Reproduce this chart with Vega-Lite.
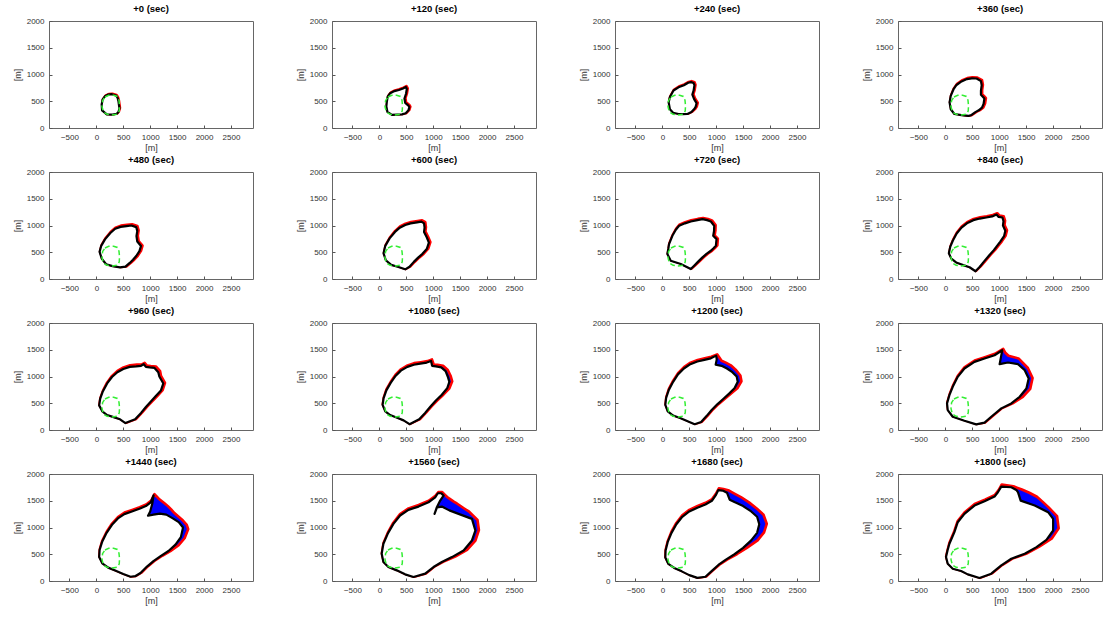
{
"$schema":"https://vega.github.io/schema/vega-lite/v6.json",
"background":"white",
"padding":{"left":12,"top":3,"right":0,"bottom":0},
"config":{
 "font":"Liberation Sans",
 "numberFormat":"d",
 "view":{"stroke":"#666666","strokeWidth":1},
 "axis":{"domain":false,"grid":false,"labelFontSize":8,"labelColor":"#333333","tickColor":"#555555","tickSize":-3,"labelPadding":8,"titleFontSize":9,"titleFontWeight":"normal","titleColor":"#333333","labelFont":"Liberation Sans","titleFont":"Liberation Sans"},
 "axisX":{"tickCount":8,"titlePadding":2},
 "axisY":{"tickCount":4,"titlePadding":4}
},
"data":{"values":[
{"t":0,"i":0,"x":193,"y":254,"u":193,"v":254},{"t":0,"i":1,"x":106,"y":328,"u":106,"v":328},{"t":0,"i":2,"x":99,"y":440,"u":99,"v":440},{"t":0,"i":3,"x":115,"y":530,"u":115,"v":530},{"t":0,"i":4,"x":161,"y":594,"u":161,"v":594},{"t":0,"i":5,"x":220,"y":625,"u":220,"v":625},{"t":0,"i":6,"x":286,"y":632,"u":286,"v":632},{"t":0,"i":7,"x":366,"y":607,"u":366,"v":607},{"t":0,"i":8,"x":395,"y":560,"u":395,"v":560},{"t":0,"i":9,"x":410,"y":502,"u":410,"v":502},{"t":0,"i":10,"x":420,"y":430,"u":420,"v":430},{"t":0,"i":11,"x":429,"y":365,"u":429,"v":365},{"t":0,"i":12,"x":410,"y":300,"u":410,"v":300},{"t":0,"i":13,"x":379,"y":266,"u":379,"v":266},{"t":0,"i":14,"x":300,"y":250,"u":300,"v":250},
{"t":120,"i":0,"x":233,"y":246,"u":233,"v":246},{"t":120,"i":1,"x":150,"y":300,"u":150,"v":300},{"t":120,"i":2,"x":130,"y":405,"u":130,"v":405},{"t":120,"i":3,"x":140,"y":500,"u":140,"v":500},{"t":120,"i":4,"x":155,"y":587,"u":155,"v":587},{"t":120,"i":5,"x":200,"y":650,"u":200,"v":652},{"t":120,"i":6,"x":280,"y":690,"u":280,"v":693},{"t":120,"i":7,"x":363,"y":710,"u":363,"v":714},{"t":120,"i":8,"x":440,"y":740,"u":440,"v":745},{"t":120,"i":9,"x":492,"y":768,"u":495,"v":775},{"t":120,"i":10,"x":510,"y":730,"u":518,"v":732},{"t":120,"i":11,"x":495,"y":640,"u":503,"v":640},{"t":120,"i":12,"x":466,"y":551,"u":474,"v":551},{"t":120,"i":13,"x":480,"y":470,"u":488,"v":470},{"t":120,"i":14,"x":540,"y":420,"u":548,"v":422},{"t":120,"i":15,"x":557,"y":391,"u":566,"v":391},{"t":120,"i":16,"x":540,"y":330,"u":548,"v":328},{"t":120,"i":17,"x":490,"y":275,"u":495,"v":272},{"t":120,"i":18,"x":420,"y":255,"u":420,"v":252},{"t":120,"i":19,"x":330,"y":250,"u":330,"v":248},
{"t":240,"i":0,"x":300,"y":262,"u":300,"v":260},{"t":240,"i":1,"x":200,"y":285,"u":200,"v":283},{"t":240,"i":2,"x":140,"y":350,"u":140,"v":350},{"t":240,"i":3,"x":117,"y":478,"u":117,"v":478},{"t":240,"i":4,"x":140,"y":580,"u":138,"v":582},{"t":240,"i":5,"x":207,"y":700,"u":205,"v":704},{"t":240,"i":6,"x":300,"y":760,"u":298,"v":765},{"t":240,"i":7,"x":400,"y":800,"u":398,"v":806},{"t":240,"i":8,"x":480,"y":845,"u":480,"v":852},{"t":240,"i":9,"x":531,"y":858,"u":533,"v":866},{"t":240,"i":10,"x":580,"y":840,"u":588,"v":845},{"t":240,"i":11,"x":596,"y":800,"u":606,"v":800},{"t":240,"i":12,"x":580,"y":700,"u":590,"v":700},{"t":240,"i":13,"x":557,"y":623,"u":567,"v":623},{"t":240,"i":14,"x":590,"y":540,"u":600,"v":540},{"t":240,"i":15,"x":635,"y":464,"u":648,"v":464},{"t":240,"i":16,"x":620,"y":400,"u":632,"v":398},{"t":240,"i":17,"x":596,"y":360,"u":606,"v":356},{"t":240,"i":18,"x":540,"y":300,"u":546,"v":296},{"t":240,"i":19,"x":466,"y":262,"u":468,"v":258},{"t":240,"i":20,"x":380,"y":258,"u":380,"v":256},
{"t":360,"i":0,"x":427,"y":225,"u":427,"v":222},{"t":360,"i":1,"x":300,"y":240,"u":300,"v":238},{"t":360,"i":2,"x":168,"y":262,"u":168,"v":260},{"t":360,"i":3,"x":100,"y":350,"u":100,"v":350},{"t":360,"i":4,"x":78,"y":478,"u":78,"v":478},{"t":360,"i":5,"x":100,"y":600,"u":98,"v":602},{"t":360,"i":6,"x":150,"y":720,"u":146,"v":724},{"t":360,"i":7,"x":207,"y":804,"u":203,"v":810},{"t":360,"i":8,"x":300,"y":870,"u":296,"v":878},{"t":360,"i":9,"x":400,"y":915,"u":398,"v":924},{"t":360,"i":10,"x":492,"y":928,"u":492,"v":938},{"t":360,"i":11,"x":580,"y":925,"u":585,"v":934},{"t":360,"i":12,"x":661,"y":877,"u":672,"v":884},{"t":360,"i":13,"x":675,"y":800,"u":688,"v":800},{"t":360,"i":14,"x":661,"y":700,"u":674,"v":700},{"t":360,"i":15,"x":661,"y":623,"u":674,"v":623},{"t":360,"i":16,"x":700,"y":580,"u":716,"v":582},{"t":360,"i":17,"x":725,"y":551,"u":744,"v":551},{"t":360,"i":18,"x":710,"y":450,"u":728,"v":448},{"t":360,"i":19,"x":680,"y":380,"u":696,"v":376},{"t":360,"i":20,"x":620,"y":330,"u":632,"v":324},{"t":360,"i":21,"x":557,"y":297,"u":566,"v":292},{"t":360,"i":22,"x":480,"y":240,"u":485,"v":236},
{"t":480,"i":0,"x":440,"y":217,"u":440,"v":214},{"t":480,"i":1,"x":300,"y":240,"u":300,"v":238},{"t":480,"i":2,"x":181,"y":275,"u":181,"v":273},{"t":480,"i":3,"x":100,"y":380,"u":100,"v":380},{"t":480,"i":4,"x":60,"y":507,"u":60,"v":507},{"t":480,"i":5,"x":90,"y":620,"u":88,"v":622},{"t":480,"i":6,"x":160,"y":740,"u":156,"v":746},{"t":480,"i":7,"x":260,"y":860,"u":255,"v":868},{"t":480,"i":8,"x":350,"y":940,"u":346,"v":950},{"t":480,"i":9,"x":450,"y":975,"u":448,"v":988},{"t":480,"i":10,"x":560,"y":990,"u":560,"v":1004},{"t":480,"i":11,"x":650,"y":1000,"u":655,"v":1014},{"t":480,"i":12,"x":740,"y":970,"u":752,"v":982},{"t":480,"i":13,"x":760,"y":900,"u":776,"v":900},{"t":480,"i":14,"x":745,"y":800,"u":760,"v":800},{"t":480,"i":15,"x":760,"y":700,"u":776,"v":700},{"t":480,"i":16,"x":829,"y":616,"u":848,"v":616},{"t":480,"i":17,"x":800,"y":520,"u":820,"v":518},{"t":480,"i":18,"x":740,"y":430,"u":760,"v":425},{"t":480,"i":19,"x":680,"y":360,"u":698,"v":355},{"t":480,"i":20,"x":620,"y":300,"u":632,"v":295},{"t":480,"i":21,"x":540,"y":230,"u":548,"v":226},
{"t":600,"i":0,"x":480,"y":181,"u":480,"v":178},{"t":600,"i":1,"x":340,"y":230,"u":340,"v":228},{"t":600,"i":2,"x":220,"y":265,"u":220,"v":263},{"t":600,"i":3,"x":120,"y":350,"u":120,"v":350},{"t":600,"i":4,"x":78,"y":480,"u":78,"v":480},{"t":600,"i":5,"x":110,"y":620,"u":108,"v":622},{"t":600,"i":6,"x":190,"y":760,"u":186,"v":766},{"t":600,"i":7,"x":290,"y":880,"u":285,"v":890},{"t":600,"i":8,"x":380,"y":960,"u":375,"v":972},{"t":600,"i":9,"x":480,"y":1010,"u":476,"v":1024},{"t":600,"i":10,"x":580,"y":1040,"u":578,"v":1055},{"t":600,"i":11,"x":700,"y":1060,"u":700,"v":1075},{"t":600,"i":12,"x":780,"y":1072,"u":785,"v":1088},{"t":600,"i":13,"x":830,"y":1040,"u":844,"v":1052},{"t":600,"i":14,"x":840,"y":960,"u":856,"v":960},{"t":600,"i":15,"x":830,"y":880,"u":846,"v":880},{"t":600,"i":16,"x":880,"y":780,"u":896,"v":780},{"t":600,"i":17,"x":920,"y":680,"u":938,"v":680},{"t":600,"i":18,"x":880,"y":560,"u":898,"v":556},{"t":600,"i":19,"x":800,"y":470,"u":816,"v":464},{"t":600,"i":20,"x":720,"y":400,"u":734,"v":394},{"t":600,"i":21,"x":640,"y":320,"u":650,"v":314},{"t":600,"i":22,"x":560,"y":230,"u":566,"v":226},
{"t":720,"i":0,"x":528,"y":186,"u":528,"v":183},{"t":720,"i":1,"x":342,"y":280,"u":342,"v":278},{"t":720,"i":2,"x":155,"y":342,"u":155,"v":340},{"t":720,"i":3,"x":93,"y":466,"u":93,"v":466},{"t":720,"i":4,"x":110,"y":560,"u":108,"v":562},{"t":720,"i":5,"x":124,"y":652,"u":120,"v":656},{"t":720,"i":6,"x":186,"y":807,"u":182,"v":813},{"t":720,"i":7,"x":250,"y":920,"u":245,"v":928},{"t":720,"i":8,"x":311,"y":994,"u":306,"v":1004},{"t":720,"i":9,"x":420,"y":1040,"u":416,"v":1052},{"t":720,"i":10,"x":528,"y":1075,"u":526,"v":1088},{"t":720,"i":11,"x":650,"y":1100,"u":650,"v":1114},{"t":720,"i":12,"x":745,"y":1118,"u":748,"v":1132},{"t":720,"i":13,"x":830,"y":1100,"u":838,"v":1114},{"t":720,"i":14,"x":901,"y":1075,"u":912,"v":1086},{"t":720,"i":15,"x":963,"y":994,"u":980,"v":1000},{"t":720,"i":16,"x":960,"y":900,"u":977,"v":900},{"t":720,"i":17,"x":944,"y":807,"u":962,"v":807},{"t":720,"i":18,"x":1006,"y":745,"u":1022,"v":745},{"t":720,"i":19,"x":994,"y":621,"u":1012,"v":618},{"t":720,"i":20,"x":950,"y":575,"u":966,"v":570},{"t":720,"i":21,"x":901,"y":528,"u":916,"v":522},{"t":720,"i":22,"x":820,"y":470,"u":834,"v":463},{"t":720,"i":23,"x":745,"y":404,"u":757,"v":398},{"t":720,"i":24,"x":660,"y":320,"u":670,"v":314},{"t":720,"i":25,"x":590,"y":248,"u":596,"v":244},
{"t":840,"i":0,"x":560,"y":145,"u":560,"v":142},{"t":840,"i":1,"x":450,"y":220,"u":450,"v":218},{"t":840,"i":2,"x":330,"y":260,"u":330,"v":258},{"t":840,"i":3,"x":200,"y":310,"u":200,"v":308},{"t":840,"i":4,"x":110,"y":380,"u":110,"v":380},{"t":840,"i":5,"x":65,"y":480,"u":65,"v":480},{"t":840,"i":6,"x":90,"y":600,"u":88,"v":602},{"t":840,"i":7,"x":140,"y":720,"u":136,"v":726},{"t":840,"i":8,"x":210,"y":850,"u":205,"v":858},{"t":840,"i":9,"x":300,"y":960,"u":294,"v":970},{"t":840,"i":10,"x":400,"y":1040,"u":395,"v":1052},{"t":840,"i":11,"x":520,"y":1100,"u":516,"v":1114},{"t":840,"i":12,"x":640,"y":1130,"u":638,"v":1145},{"t":840,"i":13,"x":760,"y":1150,"u":760,"v":1165},{"t":840,"i":14,"x":870,"y":1170,"u":872,"v":1186},{"t":840,"i":15,"x":950,"y":1205,"u":955,"v":1220},{"t":840,"i":16,"x":990,"y":1160,"u":998,"v":1175},{"t":840,"i":17,"x":1060,"y":1150,"u":1075,"v":1162},{"t":840,"i":18,"x":1080,"y":1080,"u":1100,"v":1082},{"t":840,"i":19,"x":1070,"y":1000,"u":1090,"v":1000},{"t":840,"i":20,"x":1114,"y":900,"u":1135,"v":900},{"t":840,"i":21,"x":1090,"y":800,"u":1110,"v":798},{"t":840,"i":22,"x":1020,"y":700,"u":1040,"v":695},{"t":840,"i":23,"x":960,"y":620,"u":976,"v":614},{"t":840,"i":24,"x":900,"y":540,"u":914,"v":534},{"t":840,"i":25,"x":820,"y":450,"u":832,"v":444},{"t":840,"i":26,"x":720,"y":330,"u":730,"v":324},{"t":840,"i":27,"x":640,"y":230,"u":646,"v":226},
{"t":960,"i":0,"x":540,"y":130,"u":540,"v":127},{"t":960,"i":1,"x":440,"y":200,"u":440,"v":198},{"t":960,"i":2,"x":320,"y":240,"u":320,"v":238},{"t":960,"i":3,"x":200,"y":280,"u":200,"v":278},{"t":960,"i":4,"x":110,"y":350,"u":108,"v":352},{"t":960,"i":5,"x":52,"y":460,"u":48,"v":462},{"t":960,"i":6,"x":70,"y":580,"u":65,"v":584},{"t":960,"i":7,"x":120,"y":720,"u":114,"v":726},{"t":960,"i":8,"x":200,"y":870,"u":192,"v":880},{"t":960,"i":9,"x":290,"y":990,"u":282,"v":1003},{"t":960,"i":10,"x":390,"y":1080,"u":382,"v":1096},{"t":960,"i":11,"x":500,"y":1140,"u":494,"v":1160},{"t":960,"i":12,"x":620,"y":1180,"u":618,"v":1202},{"t":960,"i":13,"x":740,"y":1190,"u":742,"v":1212},{"t":960,"i":14,"x":830,"y":1200,"u":834,"v":1216},{"t":960,"i":15,"x":880,"y":1230,"u":888,"v":1246},{"t":960,"i":16,"x":920,"y":1180,"u":930,"v":1196},{"t":960,"i":17,"x":990,"y":1170,"u":1000,"v":1186},{"t":960,"i":18,"x":1080,"y":1160,"u":1100,"v":1176},{"t":960,"i":19,"x":1150,"y":1080,"u":1175,"v":1090},{"t":960,"i":20,"x":1170,"y":1000,"u":1192,"v":1000},{"t":960,"i":21,"x":1244,"y":870,"u":1266,"v":870},{"t":960,"i":22,"x":1200,"y":740,"u":1222,"v":735},{"t":960,"i":23,"x":1100,"y":630,"u":1118,"v":620},{"t":960,"i":24,"x":1000,"y":520,"u":1014,"v":512},{"t":960,"i":25,"x":920,"y":430,"u":930,"v":424},{"t":960,"i":26,"x":830,"y":320,"u":838,"v":314},{"t":960,"i":27,"x":720,"y":200,"u":726,"v":196},
{"t":1080,"i":0,"x":560,"y":109,"u":560,"v":105},{"t":1080,"i":1,"x":450,"y":180,"u":450,"v":177},{"t":1080,"i":2,"x":330,"y":230,"u":330,"v":228},{"t":1080,"i":3,"x":200,"y":280,"u":200,"v":278},{"t":1080,"i":4,"x":110,"y":350,"u":106,"v":352},{"t":1080,"i":5,"x":60,"y":470,"u":55,"v":472},{"t":1080,"i":6,"x":78,"y":590,"u":72,"v":594},{"t":1080,"i":7,"x":130,"y":740,"u":122,"v":748},{"t":1080,"i":8,"x":210,"y":880,"u":202,"v":892},{"t":1080,"i":9,"x":300,"y":1010,"u":292,"v":1024},{"t":1080,"i":10,"x":400,"y":1110,"u":392,"v":1126},{"t":1080,"i":11,"x":520,"y":1180,"u":514,"v":1198},{"t":1080,"i":12,"x":640,"y":1220,"u":636,"v":1240},{"t":1080,"i":13,"x":760,"y":1240,"u":760,"v":1258},{"t":1080,"i":14,"x":880,"y":1260,"u":884,"v":1278},{"t":1080,"i":15,"x":960,"y":1290,"u":968,"v":1310},{"t":1080,"i":16,"x":980,"y":1200,"u":1000,"v":1215},{"t":1080,"i":17,"x":1050,"y":1190,"u":1070,"v":1208},{"t":1080,"i":18,"x":1150,"y":1170,"u":1175,"v":1190},{"t":1080,"i":19,"x":1230,"y":1100,"u":1262,"v":1112},{"t":1080,"i":20,"x":1270,"y":1000,"u":1316,"v":1000},{"t":1080,"i":21,"x":1300,"y":900,"u":1344,"v":900},{"t":1080,"i":22,"x":1260,"y":780,"u":1292,"v":770},{"t":1080,"i":23,"x":1160,"y":660,"u":1180,"v":650},{"t":1080,"i":24,"x":1050,"y":550,"u":1064,"v":542},{"t":1080,"i":25,"x":950,"y":440,"u":960,"v":434},{"t":1080,"i":26,"x":850,"y":320,"u":858,"v":314},{"t":1080,"i":27,"x":740,"y":200,"u":746,"v":196},
{"t":1200,"i":0,"x":600,"y":109,"u":600,"v":105},{"t":1200,"i":1,"x":480,"y":160,"u":480,"v":157},{"t":1200,"i":2,"x":340,"y":220,"u":340,"v":218},{"t":1200,"i":3,"x":200,"y":270,"u":200,"v":268},{"t":1200,"i":4,"x":100,"y":350,"u":96,"v":352},{"t":1200,"i":5,"x":55,"y":470,"u":50,"v":472},{"t":1200,"i":6,"x":70,"y":600,"u":64,"v":604},{"t":1200,"i":7,"x":120,"y":750,"u":112,"v":758},{"t":1200,"i":8,"x":200,"y":900,"u":192,"v":912},{"t":1200,"i":9,"x":290,"y":1040,"u":282,"v":1054},{"t":1200,"i":10,"x":400,"y":1150,"u":392,"v":1166},{"t":1200,"i":11,"x":520,"y":1230,"u":514,"v":1250},{"t":1200,"i":12,"x":650,"y":1280,"u":646,"v":1300},{"t":1200,"i":13,"x":780,"y":1310,"u":778,"v":1330},{"t":1200,"i":14,"x":900,"y":1340,"u":900,"v":1360},{"t":1200,"i":15,"x":1000,"y":1390,"u":1008,"v":1405},{"t":1200,"i":16,"x":1010,"y":1320,"u":1050,"v":1345},{"t":1200,"i":17,"x":990,"y":1220,"u":1090,"v":1285},{"t":1200,"i":18,"x":1100,"y":1200,"u":1170,"v":1250},{"t":1200,"i":19,"x":1200,"y":1150,"u":1262,"v":1200},{"t":1200,"i":20,"x":1300,"y":1080,"u":1352,"v":1118},{"t":1200,"i":21,"x":1380,"y":1000,"u":1440,"v":1010},{"t":1200,"i":22,"x":1400,"y":900,"u":1460,"v":900},{"t":1200,"i":23,"x":1340,"y":780,"u":1384,"v":770},{"t":1200,"i":24,"x":1240,"y":680,"u":1262,"v":670},{"t":1200,"i":25,"x":1130,"y":580,"u":1146,"v":572},{"t":1200,"i":26,"x":1020,"y":480,"u":1032,"v":474},{"t":1200,"i":27,"x":920,"y":380,"u":930,"v":374},{"t":1200,"i":28,"x":820,"y":260,"u":828,"v":255},{"t":1200,"i":29,"x":720,"y":150,"u":726,"v":146},
{"t":1320,"i":0,"x":572,"y":106,"u":572,"v":102},{"t":1320,"i":1,"x":354,"y":174,"u":354,"v":171},{"t":1320,"i":2,"x":137,"y":248,"u":137,"v":245},{"t":1320,"i":3,"x":44,"y":373,"u":40,"v":373},{"t":1320,"i":4,"x":31,"y":497,"u":26,"v":497},{"t":1320,"i":5,"x":75,"y":652,"u":70,"v":658},{"t":1320,"i":6,"x":137,"y":807,"u":130,"v":815},{"t":1320,"i":7,"x":230,"y":994,"u":222,"v":1005},{"t":1320,"i":8,"x":354,"y":1149,"u":345,"v":1163},{"t":1320,"i":9,"x":541,"y":1273,"u":535,"v":1290},{"t":1320,"i":10,"x":728,"y":1335,"u":725,"v":1352},{"t":1320,"i":11,"x":914,"y":1398,"u":910,"v":1415},{"t":1320,"i":12,"x":1057,"y":1491,"u":1065,"v":1505},{"t":1320,"i":13,"x":1008,"y":1230,"u":1100,"v":1440},{"t":1320,"i":14,"x":1163,"y":1261,"u":1163,"v":1379},{"t":1320,"i":15,"x":1350,"y":1230,"u":1350,"v":1329},{"t":1320,"i":16,"x":1474,"y":1118,"u":1524,"v":1149},{"t":1320,"i":17,"x":1548,"y":963,"u":1611,"v":963},{"t":1320,"i":18,"x":1505,"y":776,"u":1567,"v":758},{"t":1320,"i":19,"x":1381,"y":621,"u":1430,"v":609},{"t":1320,"i":20,"x":1225,"y":497,"u":1240,"v":490},{"t":1320,"i":21,"x":1039,"y":404,"u":1045,"v":400},{"t":1320,"i":22,"x":852,"y":248,"u":858,"v":244},{"t":1320,"i":23,"x":728,"y":137,"u":732,"v":133},
{"t":1440,"i":0,"x":635,"y":80,"u":635,"v":76},{"t":1440,"i":1,"x":500,"y":130,"u":500,"v":127},{"t":1440,"i":2,"x":360,"y":190,"u":360,"v":188},{"t":1440,"i":3,"x":220,"y":250,"u":220,"v":248},{"t":1440,"i":4,"x":110,"y":330,"u":106,"v":332},{"t":1440,"i":5,"x":52,"y":450,"u":47,"v":452},{"t":1440,"i":6,"x":60,"y":580,"u":54,"v":584},{"t":1440,"i":7,"x":110,"y":740,"u":102,"v":748},{"t":1440,"i":8,"x":190,"y":900,"u":182,"v":912},{"t":1440,"i":9,"x":290,"y":1050,"u":282,"v":1064},{"t":1440,"i":10,"x":400,"y":1170,"u":392,"v":1186},{"t":1440,"i":11,"x":520,"y":1250,"u":514,"v":1270},{"t":1440,"i":12,"x":660,"y":1300,"u":656,"v":1320},{"t":1440,"i":13,"x":800,"y":1350,"u":796,"v":1370},{"t":1440,"i":14,"x":920,"y":1400,"u":916,"v":1422},{"t":1440,"i":15,"x":1010,"y":1470,"u":1010,"v":1494},{"t":1440,"i":16,"x":1062,"y":1601,"u":1070,"v":1615},{"t":1440,"i":17,"x":1040,"y":1450,"u":1150,"v":1530},{"t":1440,"i":18,"x":1000,"y":1300,"u":1250,"v":1450},{"t":1440,"i":19,"x":960,"y":1220,"u":1320,"v":1390},{"t":1440,"i":20,"x":1060,"y":1240,"u":1380,"v":1330},{"t":1440,"i":21,"x":1180,"y":1260,"u":1440,"v":1260},{"t":1440,"i":22,"x":1300,"y":1240,"u":1520,"v":1190},{"t":1440,"i":23,"x":1420,"y":1170,"u":1600,"v":1120},{"t":1440,"i":24,"x":1530,"y":1100,"u":1670,"v":1040},{"t":1440,"i":25,"x":1610,"y":1000,"u":1697,"v":960},{"t":1440,"i":26,"x":1570,"y":820,"u":1630,"v":790},{"t":1440,"i":27,"x":1470,"y":680,"u":1520,"v":660},{"t":1440,"i":28,"x":1340,"y":560,"u":1365,"v":548},{"t":1440,"i":29,"x":1200,"y":470,"u":1215,"v":462},{"t":1440,"i":30,"x":1060,"y":370,"u":1068,"v":364},{"t":1440,"i":31,"x":940,"y":270,"u":946,"v":264},{"t":1440,"i":32,"x":820,"y":150,"u":826,"v":145},{"t":1440,"i":33,"x":720,"y":90,"u":724,"v":86},
{"t":1560,"i":0,"x":634,"y":75,"u":634,"v":70},{"t":1560,"i":1,"x":478,"y":124,"u":478,"v":120},{"t":1560,"i":2,"x":323,"y":199,"u":323,"v":196},{"t":1560,"i":3,"x":168,"y":261,"u":168,"v":258},{"t":1560,"i":4,"x":75,"y":354,"u":72,"v":354},{"t":1560,"i":5,"x":43,"y":509,"u":38,"v":509},{"t":1560,"i":6,"x":75,"y":696,"u":68,"v":700},{"t":1560,"i":7,"x":155,"y":882,"u":146,"v":890},{"t":1560,"i":8,"x":261,"y":1068,"u":250,"v":1080},{"t":1560,"i":9,"x":385,"y":1224,"u":375,"v":1240},{"t":1560,"i":10,"x":540,"y":1329,"u":532,"v":1348},{"t":1560,"i":11,"x":727,"y":1391,"u":720,"v":1410},{"t":1560,"i":12,"x":913,"y":1472,"u":908,"v":1490},{"t":1560,"i":13,"x":1037,"y":1565,"u":1032,"v":1585},{"t":1560,"i":14,"x":1087,"y":1640,"u":1087,"v":1655},{"t":1560,"i":15,"x":1149,"y":1640,"u":1155,"v":1655},{"t":1560,"i":16,"x":1193,"y":1596,"u":1210,"v":1600},{"t":1560,"i":17,"x":1130,"y":1503,"u":1250,"v":1560},{"t":1560,"i":18,"x":1068,"y":1379,"u":1286,"v":1534},{"t":1560,"i":19,"x":1025,"y":1255,"u":1380,"v":1470},{"t":1560,"i":20,"x":1070,"y":1375,"u":1430,"v":1440},{"t":1560,"i":21,"x":1161,"y":1391,"u":1472,"v":1410},{"t":1560,"i":22,"x":1300,"y":1320,"u":1560,"v":1350},{"t":1560,"i":23,"x":1472,"y":1255,"u":1658,"v":1286},{"t":1560,"i":24,"x":1720,"y":1161,"u":1814,"v":1130},{"t":1560,"i":25,"x":1783,"y":944,"u":1840,"v":944},{"t":1560,"i":26,"x":1720,"y":758,"u":1775,"v":745},{"t":1560,"i":27,"x":1565,"y":571,"u":1620,"v":571},{"t":1560,"i":28,"x":1348,"y":447,"u":1400,"v":447},{"t":1560,"i":29,"x":1161,"y":354,"u":1175,"v":350},{"t":1560,"i":30,"x":1006,"y":261,"u":1010,"v":258},{"t":1560,"i":31,"x":851,"y":137,"u":855,"v":133},
{"t":1680,"i":0,"x":650,"y":58,"u":650,"v":53},{"t":1680,"i":1,"x":500,"y":110,"u":500,"v":106},{"t":1680,"i":2,"x":360,"y":180,"u":360,"v":176},{"t":1680,"i":3,"x":220,"y":245,"u":220,"v":242},{"t":1680,"i":4,"x":110,"y":320,"u":105,"v":320},{"t":1680,"i":5,"x":55,"y":440,"u":48,"v":440},{"t":1680,"i":6,"x":60,"y":570,"u":52,"v":575},{"t":1680,"i":7,"x":100,"y":730,"u":92,"v":740},{"t":1680,"i":8,"x":170,"y":900,"u":160,"v":912},{"t":1680,"i":9,"x":260,"y":1060,"u":250,"v":1075},{"t":1680,"i":10,"x":370,"y":1200,"u":360,"v":1218},{"t":1680,"i":11,"x":500,"y":1300,"u":492,"v":1320},{"t":1680,"i":12,"x":650,"y":1370,"u":645,"v":1392},{"t":1680,"i":13,"x":800,"y":1430,"u":795,"v":1452},{"t":1680,"i":14,"x":920,"y":1500,"u":915,"v":1522},{"t":1680,"i":15,"x":990,"y":1600,"u":985,"v":1620},{"t":1680,"i":16,"x":1040,"y":1700,"u":1040,"v":1722},{"t":1680,"i":17,"x":1120,"y":1690,"u":1125,"v":1710},{"t":1680,"i":18,"x":1200,"y":1650,"u":1230,"v":1680},{"t":1680,"i":19,"x":1250,"y":1520,"u":1320,"v":1630},{"t":1680,"i":20,"x":1350,"y":1470,"u":1450,"v":1560},{"t":1680,"i":21,"x":1500,"y":1400,"u":1600,"v":1460},{"t":1680,"i":22,"x":1650,"y":1300,"u":1750,"v":1340},{"t":1680,"i":23,"x":1760,"y":1200,"u":1870,"v":1230},{"t":1680,"i":24,"x":1800,"y":1060,"u":1930,"v":1060},{"t":1680,"i":25,"x":1760,"y":900,"u":1880,"v":900},{"t":1680,"i":26,"x":1650,"y":760,"u":1760,"v":750},{"t":1680,"i":27,"x":1500,"y":620,"u":1560,"v":610},{"t":1680,"i":28,"x":1340,"y":500,"u":1380,"v":495},{"t":1680,"i":29,"x":1180,"y":400,"u":1200,"v":395},{"t":1680,"i":30,"x":1040,"y":300,"u":1050,"v":296},{"t":1680,"i":31,"x":920,"y":190,"u":925,"v":186},{"t":1680,"i":32,"x":800,"y":80,"u":805,"v":76},
{"t":1800,"i":0,"x":634,"y":56,"u":634,"v":50},{"t":1800,"i":1,"x":417,"y":124,"u":417,"v":120},{"t":1800,"i":2,"x":292,"y":186,"u":292,"v":183},{"t":1800,"i":3,"x":137,"y":230,"u":137,"v":227},{"t":1800,"i":4,"x":44,"y":323,"u":40,"v":323},{"t":1800,"i":5,"x":12,"y":447,"u":5,"v":447},{"t":1800,"i":6,"x":40,"y":570,"u":33,"v":575},{"t":1800,"i":7,"x":75,"y":696,"u":66,"v":705},{"t":1800,"i":8,"x":168,"y":913,"u":158,"v":925},{"t":1800,"i":9,"x":230,"y":1099,"u":220,"v":1112},{"t":1800,"i":10,"x":354,"y":1255,"u":345,"v":1270},{"t":1800,"i":11,"x":541,"y":1410,"u":535,"v":1430},{"t":1800,"i":12,"x":728,"y":1491,"u":725,"v":1512},{"t":1800,"i":13,"x":914,"y":1578,"u":912,"v":1600},{"t":1800,"i":14,"x":976,"y":1658,"u":980,"v":1690},{"t":1800,"i":15,"x":1039,"y":1764,"u":1039,"v":1795},{"t":1800,"i":16,"x":1225,"y":1752,"u":1256,"v":1760},{"t":1800,"i":17,"x":1318,"y":1702,"u":1412,"v":1702},{"t":1800,"i":18,"x":1350,"y":1658,"u":1550,"v":1640},{"t":1800,"i":19,"x":1399,"y":1503,"u":1692,"v":1565},{"t":1800,"i":20,"x":1660,"y":1410,"u":1800,"v":1470},{"t":1800,"i":21,"x":1909,"y":1286,"u":1909,"v":1366},{"t":1800,"i":22,"x":2002,"y":1161,"u":2065,"v":1205},{"t":1800,"i":23,"x":2002,"y":944,"u":2096,"v":975},{"t":1800,"i":24,"x":1878,"y":770,"u":1971,"v":789},{"t":1800,"i":25,"x":1692,"y":634,"u":1735,"v":634},{"t":1800,"i":26,"x":1474,"y":509,"u":1490,"v":500},{"t":1800,"i":27,"x":1225,"y":416,"u":1235,"v":410},{"t":1800,"i":28,"x":1039,"y":292,"u":1045,"v":288},{"t":1800,"i":29,"x":852,"y":137,"u":855,"v":133},
{"t":0,"i":0,"gx":160,"gy":580},{"t":0,"i":1,"gx":230,"gy":610},{"t":0,"i":2,"gx":320,"gy":612},{"t":0,"i":3,"gx":390,"gy":590},{"t":0,"i":4,"gx":420,"gy":520},{"t":0,"i":5,"gx":430,"gy":420},{"t":0,"i":6,"gx":425,"gy":320},{"t":0,"i":7,"gx":390,"gy":260},{"t":0,"i":8,"gx":300,"gy":245},{"t":0,"i":9,"gx":200,"gy":255},{"t":0,"i":10,"gx":130,"gy":300},{"t":0,"i":11,"gx":105,"gy":400},{"t":0,"i":12,"gx":115,"gy":510},
{"t":120,"i":0,"gx":160,"gy":580},{"t":120,"i":1,"gx":230,"gy":610},{"t":120,"i":2,"gx":320,"gy":612},{"t":120,"i":3,"gx":390,"gy":590},{"t":120,"i":4,"gx":420,"gy":520},{"t":120,"i":5,"gx":430,"gy":420},{"t":120,"i":6,"gx":425,"gy":320},{"t":120,"i":7,"gx":390,"gy":260},{"t":120,"i":8,"gx":300,"gy":245},{"t":120,"i":9,"gx":200,"gy":255},{"t":120,"i":10,"gx":130,"gy":300},{"t":120,"i":11,"gx":105,"gy":400},{"t":120,"i":12,"gx":115,"gy":510},
{"t":240,"i":0,"gx":160,"gy":580},{"t":240,"i":1,"gx":230,"gy":610},{"t":240,"i":2,"gx":320,"gy":612},{"t":240,"i":3,"gx":390,"gy":590},{"t":240,"i":4,"gx":420,"gy":520},{"t":240,"i":5,"gx":430,"gy":420},{"t":240,"i":6,"gx":425,"gy":320},{"t":240,"i":7,"gx":390,"gy":260},{"t":240,"i":8,"gx":300,"gy":245},{"t":240,"i":9,"gx":200,"gy":255},{"t":240,"i":10,"gx":130,"gy":300},{"t":240,"i":11,"gx":105,"gy":400},{"t":240,"i":12,"gx":115,"gy":510},
{"t":360,"i":0,"gx":160,"gy":580},{"t":360,"i":1,"gx":230,"gy":610},{"t":360,"i":2,"gx":320,"gy":612},{"t":360,"i":3,"gx":390,"gy":590},{"t":360,"i":4,"gx":420,"gy":520},{"t":360,"i":5,"gx":430,"gy":420},{"t":360,"i":6,"gx":425,"gy":320},{"t":360,"i":7,"gx":390,"gy":260},{"t":360,"i":8,"gx":300,"gy":245},{"t":360,"i":9,"gx":200,"gy":255},{"t":360,"i":10,"gx":130,"gy":300},{"t":360,"i":11,"gx":105,"gy":400},{"t":360,"i":12,"gx":115,"gy":510},
{"t":480,"i":0,"gx":160,"gy":580},{"t":480,"i":1,"gx":230,"gy":610},{"t":480,"i":2,"gx":320,"gy":612},{"t":480,"i":3,"gx":390,"gy":590},{"t":480,"i":4,"gx":420,"gy":520},{"t":480,"i":5,"gx":430,"gy":420},{"t":480,"i":6,"gx":425,"gy":320},{"t":480,"i":7,"gx":390,"gy":260},{"t":480,"i":8,"gx":300,"gy":245},{"t":480,"i":9,"gx":200,"gy":255},{"t":480,"i":10,"gx":130,"gy":300},{"t":480,"i":11,"gx":105,"gy":400},{"t":480,"i":12,"gx":115,"gy":510},
{"t":600,"i":0,"gx":160,"gy":580},{"t":600,"i":1,"gx":230,"gy":610},{"t":600,"i":2,"gx":320,"gy":612},{"t":600,"i":3,"gx":390,"gy":590},{"t":600,"i":4,"gx":420,"gy":520},{"t":600,"i":5,"gx":430,"gy":420},{"t":600,"i":6,"gx":425,"gy":320},{"t":600,"i":7,"gx":390,"gy":260},{"t":600,"i":8,"gx":300,"gy":245},{"t":600,"i":9,"gx":200,"gy":255},{"t":600,"i":10,"gx":130,"gy":300},{"t":600,"i":11,"gx":105,"gy":400},{"t":600,"i":12,"gx":115,"gy":510},
{"t":720,"i":0,"gx":160,"gy":580},{"t":720,"i":1,"gx":230,"gy":610},{"t":720,"i":2,"gx":320,"gy":612},{"t":720,"i":3,"gx":390,"gy":590},{"t":720,"i":4,"gx":420,"gy":520},{"t":720,"i":5,"gx":430,"gy":420},{"t":720,"i":6,"gx":425,"gy":320},{"t":720,"i":7,"gx":390,"gy":260},{"t":720,"i":8,"gx":300,"gy":245},{"t":720,"i":9,"gx":200,"gy":255},{"t":720,"i":10,"gx":130,"gy":300},{"t":720,"i":11,"gx":105,"gy":400},{"t":720,"i":12,"gx":115,"gy":510},
{"t":840,"i":0,"gx":160,"gy":580},{"t":840,"i":1,"gx":230,"gy":610},{"t":840,"i":2,"gx":320,"gy":612},{"t":840,"i":3,"gx":390,"gy":590},{"t":840,"i":4,"gx":420,"gy":520},{"t":840,"i":5,"gx":430,"gy":420},{"t":840,"i":6,"gx":425,"gy":320},{"t":840,"i":7,"gx":390,"gy":260},{"t":840,"i":8,"gx":300,"gy":245},{"t":840,"i":9,"gx":200,"gy":255},{"t":840,"i":10,"gx":130,"gy":300},{"t":840,"i":11,"gx":105,"gy":400},{"t":840,"i":12,"gx":115,"gy":510},
{"t":960,"i":0,"gx":160,"gy":580},{"t":960,"i":1,"gx":230,"gy":610},{"t":960,"i":2,"gx":320,"gy":612},{"t":960,"i":3,"gx":390,"gy":590},{"t":960,"i":4,"gx":420,"gy":520},{"t":960,"i":5,"gx":430,"gy":420},{"t":960,"i":6,"gx":425,"gy":320},{"t":960,"i":7,"gx":390,"gy":260},{"t":960,"i":8,"gx":300,"gy":245},{"t":960,"i":9,"gx":200,"gy":255},{"t":960,"i":10,"gx":130,"gy":300},{"t":960,"i":11,"gx":105,"gy":400},{"t":960,"i":12,"gx":115,"gy":510},
{"t":1080,"i":0,"gx":160,"gy":580},{"t":1080,"i":1,"gx":230,"gy":610},{"t":1080,"i":2,"gx":320,"gy":612},{"t":1080,"i":3,"gx":390,"gy":590},{"t":1080,"i":4,"gx":420,"gy":520},{"t":1080,"i":5,"gx":430,"gy":420},{"t":1080,"i":6,"gx":425,"gy":320},{"t":1080,"i":7,"gx":390,"gy":260},{"t":1080,"i":8,"gx":300,"gy":245},{"t":1080,"i":9,"gx":200,"gy":255},{"t":1080,"i":10,"gx":130,"gy":300},{"t":1080,"i":11,"gx":105,"gy":400},{"t":1080,"i":12,"gx":115,"gy":510},
{"t":1200,"i":0,"gx":160,"gy":580},{"t":1200,"i":1,"gx":230,"gy":610},{"t":1200,"i":2,"gx":320,"gy":612},{"t":1200,"i":3,"gx":390,"gy":590},{"t":1200,"i":4,"gx":420,"gy":520},{"t":1200,"i":5,"gx":430,"gy":420},{"t":1200,"i":6,"gx":425,"gy":320},{"t":1200,"i":7,"gx":390,"gy":260},{"t":1200,"i":8,"gx":300,"gy":245},{"t":1200,"i":9,"gx":200,"gy":255},{"t":1200,"i":10,"gx":130,"gy":300},{"t":1200,"i":11,"gx":105,"gy":400},{"t":1200,"i":12,"gx":115,"gy":510},
{"t":1320,"i":0,"gx":160,"gy":580},{"t":1320,"i":1,"gx":230,"gy":610},{"t":1320,"i":2,"gx":320,"gy":612},{"t":1320,"i":3,"gx":390,"gy":590},{"t":1320,"i":4,"gx":420,"gy":520},{"t":1320,"i":5,"gx":430,"gy":420},{"t":1320,"i":6,"gx":425,"gy":320},{"t":1320,"i":7,"gx":390,"gy":260},{"t":1320,"i":8,"gx":300,"gy":245},{"t":1320,"i":9,"gx":200,"gy":255},{"t":1320,"i":10,"gx":130,"gy":300},{"t":1320,"i":11,"gx":105,"gy":400},{"t":1320,"i":12,"gx":115,"gy":510},
{"t":1440,"i":0,"gx":160,"gy":580},{"t":1440,"i":1,"gx":230,"gy":610},{"t":1440,"i":2,"gx":320,"gy":612},{"t":1440,"i":3,"gx":390,"gy":590},{"t":1440,"i":4,"gx":420,"gy":520},{"t":1440,"i":5,"gx":430,"gy":420},{"t":1440,"i":6,"gx":425,"gy":320},{"t":1440,"i":7,"gx":390,"gy":260},{"t":1440,"i":8,"gx":300,"gy":245},{"t":1440,"i":9,"gx":200,"gy":255},{"t":1440,"i":10,"gx":130,"gy":300},{"t":1440,"i":11,"gx":105,"gy":400},{"t":1440,"i":12,"gx":115,"gy":510},
{"t":1560,"i":0,"gx":160,"gy":580},{"t":1560,"i":1,"gx":230,"gy":610},{"t":1560,"i":2,"gx":320,"gy":612},{"t":1560,"i":3,"gx":390,"gy":590},{"t":1560,"i":4,"gx":420,"gy":520},{"t":1560,"i":5,"gx":430,"gy":420},{"t":1560,"i":6,"gx":425,"gy":320},{"t":1560,"i":7,"gx":390,"gy":260},{"t":1560,"i":8,"gx":300,"gy":245},{"t":1560,"i":9,"gx":200,"gy":255},{"t":1560,"i":10,"gx":130,"gy":300},{"t":1560,"i":11,"gx":105,"gy":400},{"t":1560,"i":12,"gx":115,"gy":510},
{"t":1680,"i":0,"gx":160,"gy":580},{"t":1680,"i":1,"gx":230,"gy":610},{"t":1680,"i":2,"gx":320,"gy":612},{"t":1680,"i":3,"gx":390,"gy":590},{"t":1680,"i":4,"gx":420,"gy":520},{"t":1680,"i":5,"gx":430,"gy":420},{"t":1680,"i":6,"gx":425,"gy":320},{"t":1680,"i":7,"gx":390,"gy":260},{"t":1680,"i":8,"gx":300,"gy":245},{"t":1680,"i":9,"gx":200,"gy":255},{"t":1680,"i":10,"gx":130,"gy":300},{"t":1680,"i":11,"gx":105,"gy":400},{"t":1680,"i":12,"gx":115,"gy":510},
{"t":1800,"i":0,"gx":160,"gy":580},{"t":1800,"i":1,"gx":230,"gy":610},{"t":1800,"i":2,"gx":320,"gy":612},{"t":1800,"i":3,"gx":390,"gy":590},{"t":1800,"i":4,"gx":420,"gy":520},{"t":1800,"i":5,"gx":430,"gy":420},{"t":1800,"i":6,"gx":425,"gy":320},{"t":1800,"i":7,"gx":390,"gy":260},{"t":1800,"i":8,"gx":300,"gy":245},{"t":1800,"i":9,"gx":200,"gy":255},{"t":1800,"i":10,"gx":130,"gy":300},{"t":1800,"i":11,"gx":105,"gy":400},{"t":1800,"i":12,"gx":115,"gy":510}
]},
"facet":{"field":"t","type":"ordinal","title":null,"header":{"labelExpr":"'+' + datum.value + ' (sec)'","labelFont":"Liberation Sans","labelFontSize":9.5,"labelFontWeight":"bold","labelColor":"#000000","labelPadding":4}},
"columns":4,
"bounds":"flush",
"spacing":{"row":44,"column":79},
"resolve":{"axis":{"x":"independent","y":"independent"}},
"spec":{
 "width":204,"height":107,
 "layer":[
  {"transform":[{"filter":"isValid(datum.u)"}],
   "mark":{"type":"line","interpolate":"linear-closed","stroke":"#ff0000","fill":"#0000ff","strokeWidth":2.6,"strokeJoin":"round","xOffset":0.5,"yOffset":-0.5},
   "encoding":{
    "x":{"field":"u","type":"quantitative","scale":{"domain":[-880,2910],"nice":false,"zero":false},"axis":{"title":"[m]"}},
    "y":{"field":"v","type":"quantitative","scale":{"domain":[0,2000],"nice":false,"zero":false},"axis":{"title":"[m]"}},
    "order":{"field":"i","type":"quantitative"}}},
  {"transform":[{"filter":"isValid(datum.x)"}],
   "mark":{"type":"line","interpolate":"linear-closed","stroke":"#000000","fill":"#ffffff","strokeWidth":2.2,"strokeJoin":"round"},
   "encoding":{
    "x":{"field":"x","type":"quantitative","scale":{"domain":[-880,2910],"nice":false,"zero":false},"axis":{"title":"[m]"}},
    "y":{"field":"y","type":"quantitative","scale":{"domain":[0,2000],"nice":false,"zero":false},"axis":{"title":"[m]"}},
    "order":{"field":"i","type":"quantitative"}}},
  {"transform":[{"filter":"isValid(datum.gx)"}],
   "mark":{"type":"line","interpolate":"linear-closed","stroke":"#33ee33","strokeWidth":1.5,"strokeDash":[5,3]},
   "encoding":{
    "x":{"field":"gx","type":"quantitative","scale":{"domain":[-880,2910],"nice":false,"zero":false},"axis":{"title":"[m]"}},
    "y":{"field":"gy","type":"quantitative","scale":{"domain":[0,2000],"nice":false,"zero":false},"axis":{"title":"[m]"}},
    "order":{"field":"i","type":"quantitative"}}}
 ]
}
}
